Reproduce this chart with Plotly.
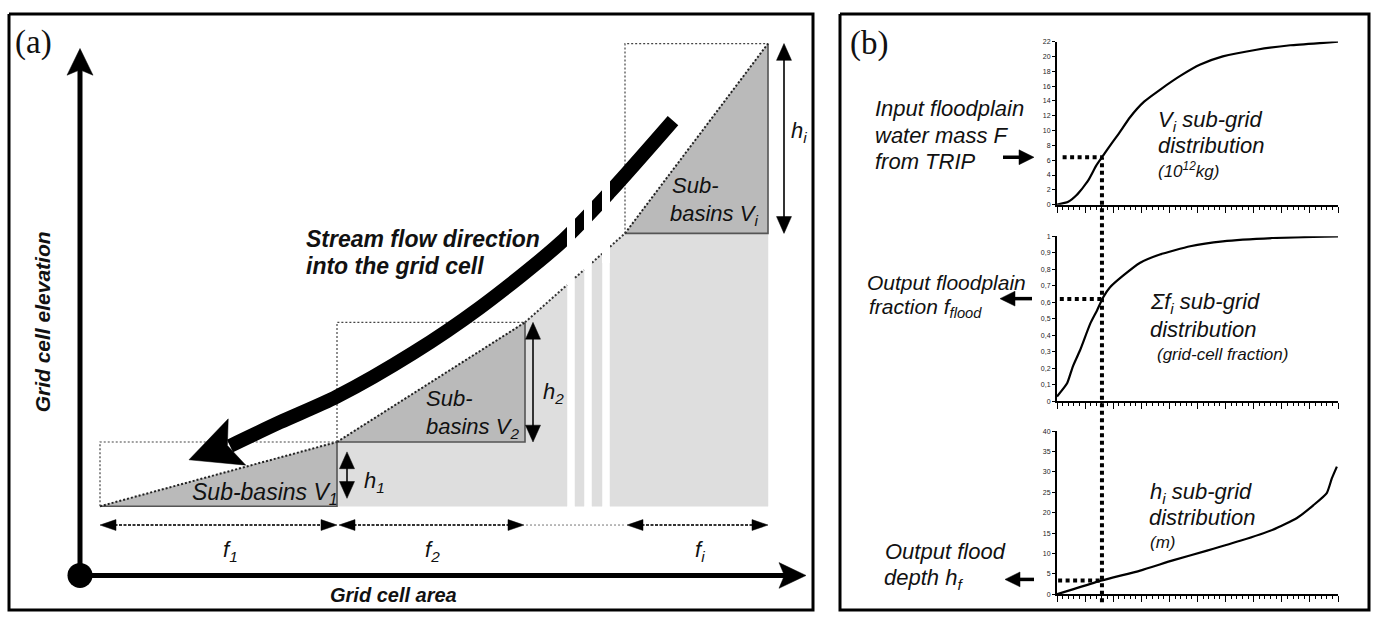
import numpy as np
import plotly.graph_objects as go

W, H = 1374, 619
SANS = "Liberation Sans"
SERIF = "Liberation Serif"

# ---------------- Panel (b) data : sub-grid distributions ----------------
# x = sub-grid index (0..50)
V_X = [0, 2, 3.5, 5.5, 7, 8, 9, 11, 13, 15.5, 18.5, 22, 25.5, 29.5, 35.5, 41.5, 48.5, 50]
V_Y = [0, 0.4, 1.3, 3.2, 5.3, 6.4, 7.5, 9.6, 11.8, 13.9, 15.6, 17.4, 18.9, 20.0, 20.9, 21.5, 21.9, 22.0]
F_X = [0, 1.8, 2.8, 4.1, 5.9, 7.1, 8.2, 9.4, 11.7, 14.8, 18.3, 23.7, 29.5, 38.4, 50]
F_Y = [0.03, 0.11, 0.21, 0.31, 0.47, 0.55, 0.63, 0.69, 0.76, 0.84, 0.89, 0.94, 0.97, 0.99, 1.0]
H_X = [0, 2.8, 8, 14.8, 20.6, 26.7, 32.6, 38.4, 42.7, 45.6, 48, 48.9, 49.8]
H_Y = [0, 1.2, 3.4, 5.8, 8.3, 10.7, 13.1, 15.8, 18.7, 21.8, 24.8, 28.4, 31.3]
X_SEL = 8
SEL_Y = [6.4, 0.62, 3.4]          # read-off values (V, sum f, h)
SEL_X_START = [1.0, 0.5, 0.2]
Y_MAX = [22, 1, 40]
Y_DTICK = [2, 0.1, 5]
X_MAX = 50

# chart placement (pixels)
PB_X0, PB_X1 = 1057, 1338
CH_TOP = [38, 235, 432]
CH_BOT = [203, 402, 597]

# ---------------- Panel (a) schematic geometry (pixel space) ----------------
SUB_X0 = [100, 337, 625]
SUB_X1 = [337, 525, 768]
SUB_YBOT = [508, 443, 232]
SUB_YTOP = [443, 322, 40]
TERRAIN_X = [337, 525, 625, 768]
TERRAIN_Y = [443, 322, 232, 232]
GRAY_X0 = [337, 575, 592, 610]
GRAY_X1 = [567, 584, 602, 768]
FLOOR_Y = 508
GAP_X0 = [567, 584, 602]
GAP_X1 = [575, 592, 610]
STREAM_X = [673, 610, 560, 480, 413, 337, 280, 230]
STREAM_Y = [118, 190, 242, 307, 353, 397, 423, 447]
H_ARR_X = [347, 533, 784]
H_ARR_Y0 = [453, 322, 40]
H_ARR_Y1 = [500, 443, 232]
F_ARR_X0 = [100, 339, 627]
F_ARR_X1 = [337, 524, 768]
F_ARR_Y = 527
ORIGIN = (80, 578)
YAX_TOP = 45
XAX_END = 806

fig = go.Figure()


def poly(xs, ys, fill, lc=None, lw=0.5):
    xs = list(xs); ys = list(ys)
    fig.add_trace(go.Scatter(x=xs + [xs[0]], y=ys + [ys[0]], mode="lines", fill="toself",
                             fillcolor=fill, line=dict(color=lc or fill, width=lw),
                             hoverinfo="skip", showlegend=False, xaxis="x", yaxis="y"))


def seg(xs, ys, color, lw, dash="solid", shape="linear"):
    fig.add_trace(go.Scatter(x=list(xs), y=list(ys), mode="lines",
                             line=dict(color=color, width=lw, dash=dash, shape=shape, smoothing=0.8),
                             hoverinfo="skip", showlegend=False, xaxis="x", yaxis="y"))


def head(tip, base, hw, notch=0.0, color="black"):
    tx, ty = tip; bx, by = base
    dx, dy = tx - bx, ty - by
    L = np.hypot(dx, dy)
    nx, ny = -dy / L * hw, dx / L * hw
    mx, my = bx + dx * notch, by + dy * notch
    poly([tx, bx + nx, mx, bx - nx], [ty, by + ny, my, by - ny], color, color, 0.5)


# light gray ground region
for x0, x1 in zip(GRAY_X0, GRAY_X1):
    xs = [x0] + [t for t in TERRAIN_X if x0 < t < x1] + [x1]
    tops = np.interp(xs, TERRAIN_X, TERRAIN_Y)
    poly([x0] + xs + [x1], [FLOOR_Y] + list(tops) + [FLOOR_Y], "#dedede")
    a, b = max(x0, TERRAIN_X[1]), min(x1, TERRAIN_X[2])
    if a < b:
        seg([a, b], np.interp([a, b], TERRAIN_X, TERRAIN_Y), "#333333", 2, "2px,2px")

# sub-basin triangles
for x0, x1, yb, yt in zip(SUB_X0, SUB_X1, SUB_YBOT, SUB_YTOP):
    poly([x0, x1, x1], [yb, yt, yb], "#bababa")
    seg([x0, x1, x1], [yb, yb, yt], "#555555", 1.6)
    seg([x0, x1], [yb, yt], "#222222", 2, "2px,2px")
    seg([x0, x0, x1], [yb, yt, yt], "#444444", 1.2, "2px,2px")

# stream flow arrow
seg(STREAM_X, STREAM_Y, "black", 14, shape="spline")
for g0, g1 in zip(GAP_X0, GAP_X1):
    poly([g0, g1, g1, g0], [170, 170, 262, 262], "white", "white", 0)
head((189, 461), (237, 443), 25, notch=0.2)

# height arrows
for x, y0, y1 in zip(H_ARR_X, H_ARR_Y0, H_ARR_Y1):
    seg([x, x], [y0 + 10, y1 - 10], "#333333", 2)
    head((x, y0), (x, y0 + 17), 7.5)
    head((x, y1), (x, y1 - 17), 7.5)

# fraction arrows
for x0, x1 in zip(F_ARR_X0, F_ARR_X1):
    seg([x0 + 10, x1 - 10], [F_ARR_Y, F_ARR_Y], "#333333", 2, "3px,1.5px")
    head((x0, F_ARR_Y), (x0 + 16, F_ARR_Y), 5.5)
    head((x1, F_ARR_Y), (x1 - 16, F_ARR_Y), 5.5)
seg([F_ARR_X1[1] + 2, F_ARR_X0[2] - 2], [F_ARR_Y, F_ARR_Y], "#777777", 1, "2px,2px")

# main axes of panel (a)
ox, oy = ORIGIN
seg([ox, ox], [oy, YAX_TOP + 20], "black", 5)
head((ox, YAX_TOP), (ox, YAX_TOP + 27), 13, notch=0.2)
seg([ox, XAX_END - 20], [oy, oy], "black", 5)
head((XAX_END, oy), (XAX_END - 27, oy), 13, notch=0.2)
fig.add_trace(go.Scatter(x=[ox], y=[oy], mode="markers", marker=dict(color="black", size=25),
                         hoverinfo="skip", showlegend=False, xaxis="x", yaxis="y"))

# panel (b) arrows
seg([1003, 1022], [155, 155], "black", 3.5)
head((1034, 155), (1019, 155), 7.5)
seg([1012, 1032], [298, 298], "black", 3.5)
head((1000, 298), (1015, 298), 7.5)
seg([1017, 1034], [582, 582], "black", 3.5)
head((1005, 582), (1020, 582), 7.5)

# panel borders
for bx0, bx1 in [(9, 813), (840, 1369)]:
    seg([bx0, bx1, bx1, bx0, bx0], [10, 10, 613, 613, 10], "black", 3)

# ---------------- panel (b) charts ----------------
layout = dict(width=W, height=H, margin=dict(l=0, r=0, t=0, b=0, pad=0),
              paper_bgcolor="white", plot_bgcolor="rgba(0,0,0,0)", showlegend=False,
              separators=", ",
              xaxis=dict(range=[0, W], domain=[0, 1], visible=False, fixedrange=True),
              yaxis=dict(range=[H, 0], domain=[0, 1], visible=False, fixedrange=True))

curves = [(V_X, V_Y), (F_X, F_Y), (H_X, H_Y)]
shapes = []
for k in range(3):
    n = k + 2
    yd = [1 - CH_BOT[k] / H, 1 - CH_TOP[k] / H]
    layout[f"xaxis{n}"] = dict(domain=[PB_X0 / W, PB_X1 / W], anchor=f"y{n}", range=[0, X_MAX],
                               showline=True, linecolor="black", linewidth=2, showgrid=False,
                               zeroline=False, showticklabels=False, ticks="outside", ticklen=6,
                               tickwidth=1, tickcolor="black", dtick=5, tick0=0, fixedrange=True,
                               minor=dict(ticks="outside", ticklen=3, tickwidth=1,
                                          tickcolor="black", dtick=1, showgrid=False))
    layout[f"yaxis{n}"] = dict(domain=yd, anchor=f"x{n}", range=[0, Y_MAX[k]], dtick=Y_DTICK[k],
                               tick0=0, showline=True, linecolor="black", linewidth=2,
                               showgrid=False, zeroline=False, ticks="outside", ticklen=3,
                               tickwidth=1, tickcolor="black", fixedrange=True,
                               tickfont=dict(family=SANS, size=7, color="#222"))
    cx, cy = curves[k]
    fig.add_trace(go.Scatter(x=cx, y=cy, mode="lines", xaxis=f"x{n}", yaxis=f"y{n}",
                             line=dict(color="black", width=2.2, shape="spline", smoothing=0.5),
                             hoverinfo="skip", showlegend=False))
    shapes.append(dict(type="line", xref=f"x{n}", yref=f"y{n}", x0=SEL_X_START[k], x1=X_SEL,
                       y0=SEL_Y[k], y1=SEL_Y[k], layer="above",
                       line=dict(color="black", width=4, dash="4px,3.5px")))

top_paper = (1 - CH_BOT[0] / H) + SEL_Y[0] / Y_MAX[0] * ((CH_BOT[0] - CH_TOP[0]) / H)
shapes.append(dict(type="line", xref="x2", yref="paper", x0=X_SEL, x1=X_SEL,
                   y0=1 - 605 / H, y1=top_paper, layer="above",
                   line=dict(color="black", width=4, dash="4px,3.5px")))
layout["shapes"] = shapes
fig.update_layout(**layout)


def label(x, y, text, size=22, anchor="left", family=SANS, angle=0, color="#111"):
    fig.add_annotation(x=x, y=y, xref="x", yref="y", text=text, showarrow=False,
                       xanchor=anchor, yanchor="middle", textangle=angle,
                       font=dict(family=family, size=size, color=color))


# panel (a) texts
label(13, 39, "(a)", 33, family=SERIF)
label(848, 40, "(b)", 33, family=SERIF)
label(42, 322, "<b><i>Grid cell elevation</i></b>", 21, anchor="center", angle=-90)
label(393, 598, "<b><i>Grid cell area</i></b>", 20, anchor="center")
label(304, 238, "<b><i>Stream flow direction</i></b>", 23)
label(304, 265, "<b><i>into the grid cell</i></b>", 23)
label(340, 495, "<i>Sub-basins V<sub>1</sub></i>", 23, anchor="right")
label(424, 399, "<i>Sub-</i>", 22)
label(424, 429, "<i>basins V<sub>2</sub></i>", 22)
label(670, 184, "<i>Sub-</i>", 22)
label(668, 213, "<i>basins V<sub>i</sub></i>", 22)
label(789, 129, "<i>h<sub>i</sub></i>", 22)
label(541, 393, "<i>h<sub>2</sub></i>", 22)
label(362, 483, "<i>h<sub>1</sub></i>", 22)
label(230, 553, "<i>f<sub>1</sub></i>", 22, anchor="center")
label(432, 553, "<i>f<sub>2</sub></i>", 22, anchor="center")
label(700, 553, "<i>f<sub>i</sub></i>", 22, anchor="center")

# panel (b) texts
label(873, 106, "<i>Input floodplain</i>", 22)
label(873, 133, "<i>water mass F</i>", 22)
label(873, 159, "<i>from TRIP</i>", 22)
label(1156, 118, "<i>V<sub>i</sub> sub-grid</i>", 22)
label(1156, 143, "<i>distribution</i>", 22)
label(1156, 168, "<i>(10<sup>12</sup>kg)</i>", 17)
label(865, 282, "<i>Output floodplain</i>", 21)
label(867, 307, "<i>fraction f<sub>flood</sub></i>", 21)
label(1148, 302, "<i>Σf<sub>i</sub> sub-grid</i>", 22)
label(1148, 329, "<i>distribution</i>", 22)
label(1155, 355, "<i>(grid-cell fraction)</i>", 17)
label(1148, 495, "<i>h<sub>i</sub> sub-grid</i>", 22)
label(1147, 519, "<i>distribution</i>", 22)
label(1148, 545, "<i>(m)</i>", 17)
label(883, 554, "<i>Output flood</i>", 22)
label(882, 582, "<i>depth h<sub>f</sub></i>", 22)

fig.write_html("out.html", config={"displayModeBar": False})
